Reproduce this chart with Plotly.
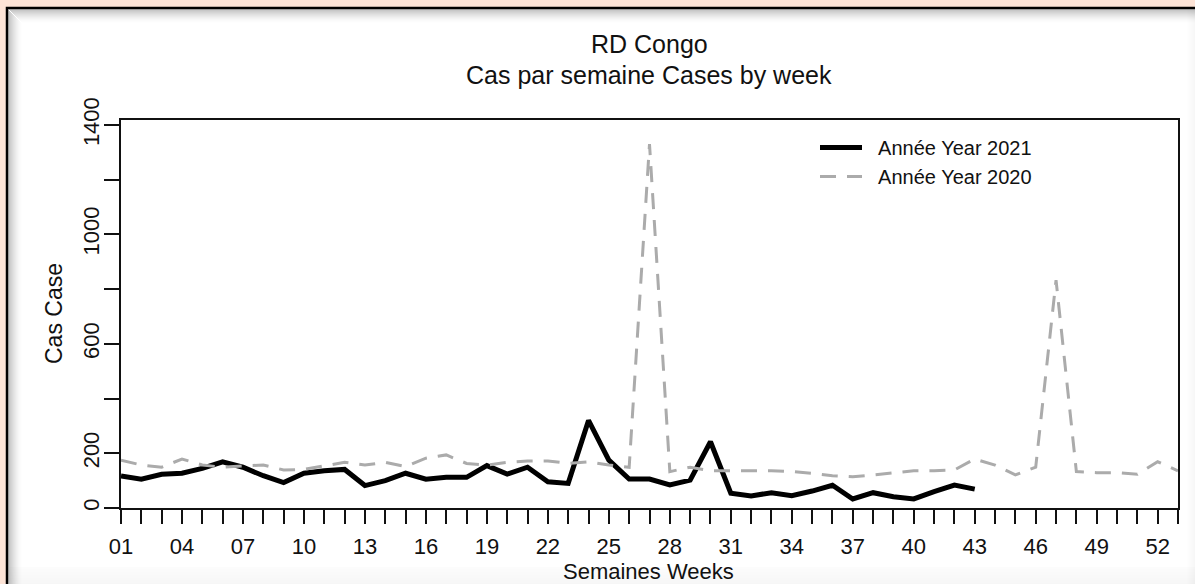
import plotly.graph_objects as go

# ---------------- data ----------------
weeks_2021 = list(range(1, 44))
cases_2021 = [117, 105, 123, 127, 145, 169, 149, 118, 93, 127,
              136, 141, 82, 100, 127, 105, 112, 112, 155, 124,
              149, 96, 90, 320, 175, 106, 106, 84, 102, 242,
              54, 44, 56, 45, 62, 83, 33, 56, 41, 33,
              60, 84, 69]

weeks_2020 = list(range(1, 54))
cases_2020 = [175, 157, 149, 179, 157, 149, 154, 157, 139, 141,
              154, 167, 157, 167, 151, 182, 194, 163, 157, 167,
              172, 172, 163, 169, 157, 149, 1330, 133, 149, 136,
              136, 136, 136, 133, 127, 118, 114, 121, 129, 136,
              136, 139, 179, 157, 121, 149, 833, 133, 129, 129,
              123, 169, 136]

x_tickvals = list(range(1, 54))
x_ticktext = [f"{w:02d}" if (w - 1) % 3 == 0 else "" for w in x_tickvals]
y_tickvals = [0, 200, 400, 600, 800, 1000, 1200, 1400]
y_ticktext = ["0", "200", "", "600", "", "1000", "", "1400"]

name_2021 = "Année Year 2021"
name_2020 = "Année Year 2020"
title_1 = "RD Congo"
title_2 = "Cas par semaine Cases by week"
x_title = "Semaines Weeks"
y_title = "Cas Case"

# ---------------- geometry helpers ----------------
W, H = 1195, 584
L, R, T, B = 121, 1178, 120, 508


def X(px):
    return (px - L) / (R - L)


def Y(py):
    return (B - py) / (B - T)


FONT = "Liberation Sans, Arial, sans-serif"
PEACH = "#fde4d7"
INK = "#111111"
GAP = "\u00a0\u00a0"

fig = go.Figure()
fig.add_trace(go.Scatter(
    x=weeks_2021, y=cases_2021, mode="lines", name=GAP + name_2021,
    line=dict(color="#000000", width=5),
))
fig.add_trace(go.Scatter(
    x=weeks_2020, y=cases_2020, mode="lines", name=GAP + name_2020,
    line=dict(color="#ababab", width=3, dash="16px,11px"),
))

shapes = []
# white panel with black frame
shapes.append(dict(type="rect", xref="paper", yref="paper", layer="below",
                   x0=X(7), x1=X(1210), y0=Y(8), y1=Y(600),
                   fillcolor="white", line=dict(color="#000000", width=2.5)))
# inner shadow (top and left)
n = 14
for i in range(n):
    a = 0.38 * (1 - i / n) ** 1.6
    col = f"rgba(90,90,90,{a:.3f})"
    shapes.append(dict(type="rect", xref="paper", yref="paper", layer="below",
                       x0=X(9 + i), x1=X(1210), y0=Y(9 + i), y1=Y(10 + i),
                       fillcolor=col, line=dict(width=0)))
    shapes.append(dict(type="rect", xref="paper", yref="paper", layer="below",
                       x0=X(8 + i), x1=X(9 + i), y0=Y(10 + i), y1=Y(600),
                       fillcolor=col, line=dict(width=0)))
# faint shading at right and bottom edges
for i in range(8):
    a = 0.06 * (i + 1) / 8
    col = f"rgba(120,120,120,{a:.3f})"
    shapes.append(dict(type="rect", xref="paper", yref="paper", layer="below",
                       x0=X(1187 + i), x1=X(1188 + i), y0=Y(9), y1=Y(600),
                       fillcolor=col, line=dict(width=0)))
for i in range(17):
    a = 0.02 + 0.05 * i / 17
    col = f"rgba(120,120,120,{a:.3f})"
    shapes.append(dict(type="rect", xref="paper", yref="paper", layer="below",
                       x0=X(9), x1=X(1210), y0=Y(567 + i), y1=Y(568 + i),
                       fillcolor=col, line=dict(width=0)))

annotations = [
    dict(text=title_1, xref="paper", yref="paper", x=X(649), y=Y(44),
         xanchor="center", yanchor="middle", showarrow=False,
         font=dict(family=FONT, size=25, color=INK)),
    dict(text=title_2, xref="paper", yref="paper", x=X(649), y=Y(75),
         xanchor="center", yanchor="middle", showarrow=False,
         font=dict(family=FONT, size=25, color=INK)),
    dict(text=y_title, xref="paper", yref="paper", x=X(54), y=Y(314),
         xanchor="center", yanchor="middle", showarrow=False, textangle=-90,
         font=dict(family=FONT, size=23, color=INK)),
    dict(text=x_title, xref="paper", yref="paper", x=X(648), y=Y(571),
         xanchor="center", yanchor="middle", showarrow=False,
         font=dict(family=FONT, size=22, color=INK)),
]

fig.update_layout(
    width=W, height=H,
    margin=dict(l=L, r=W - R, t=T, b=H - B, autoexpand=False),
    paper_bgcolor=PEACH, plot_bgcolor="rgba(0,0,0,0)",
    font=dict(family=FONT, size=21, color=INK),
    shapes=shapes, annotations=annotations,
    showlegend=True,
    legend=dict(x=X(815), y=Y(128), xanchor="left", yanchor="top",
                bgcolor="rgba(0,0,0,0)", itemwidth=42,
                font=dict(family=FONT, size=20, color=INK),
                tracegroupgap=0),
    xaxis=dict(range=[1, 53], tickvals=x_tickvals, ticktext=x_ticktext,
               ticks="outside", ticklen=14, tickwidth=2, tickcolor=INK,
               showline=True, linecolor=INK, linewidth=2, mirror=True,
               showgrid=False, zeroline=False, tickangle=0,
               ticklabelstandoff=4,
               tickfont=dict(family=FONT, size=22, color=INK)),
    yaxis=dict(range=[0, 1418], tickvals=y_tickvals, ticktext=y_ticktext,
               ticks="outside", ticklen=15, tickwidth=2, tickcolor=INK,
               showline=True, linecolor=INK, linewidth=2, mirror=True,
               showgrid=False, zeroline=False, tickangle=-90,
               ticklabelstandoff=-4,
               tickfont=dict(family=FONT, size=22, color=INK)),
)

fig.write_html("out.html",
               config={"displayModeBar": False},
               post_script="document.body.style.margin='0';"
                           "document.body.style.overflow='hidden';")
